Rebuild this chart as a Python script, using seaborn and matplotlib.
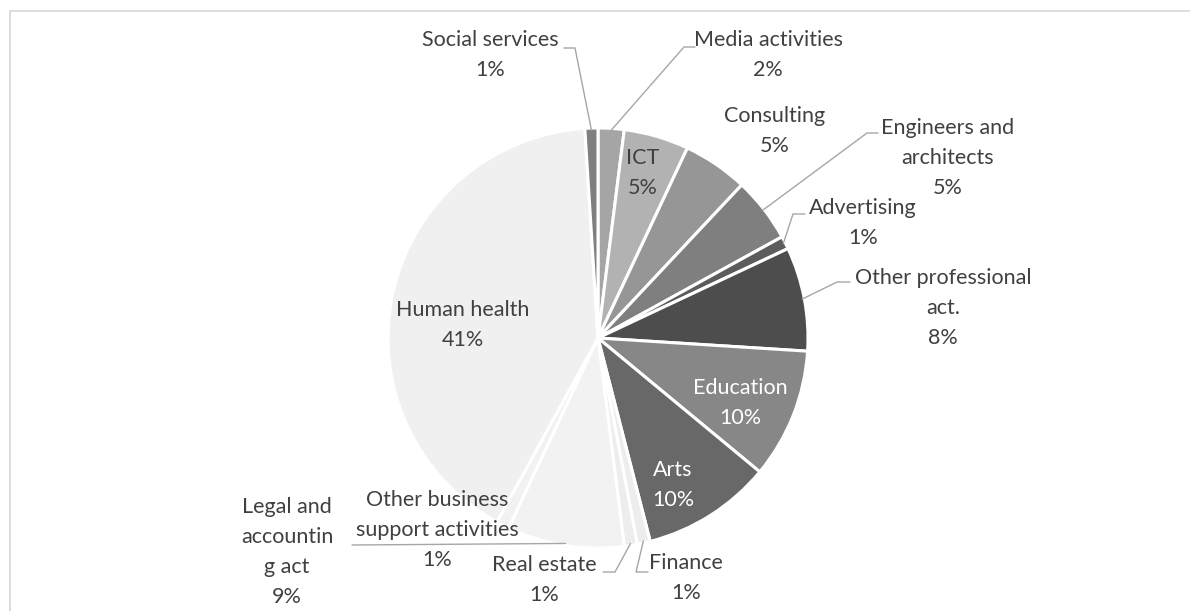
import numpy as np
import matplotlib
matplotlib.use("Agg")
import matplotlib.pyplot as plt
import seaborn as sns

# Shares of employment by sector (%), clockwise from 12 o'clock
sectors = [
    "Media activities", "ICT", "Consulting", "Engineers and architects",
    "Advertising", "Other professional act.", "Education", "Arts",
    "Finance", "Real estate", "Legal and accounting act",
    "Other business support activities", "Human health", "Social services",
]
shares = [2, 5, 5, 5, 1, 8, 10, 10, 1, 1, 9, 1, 41, 1]

# Label text as wrapped on the chart
label_names = [
    "Media activities", "ICT", "Consulting", "Engineers and\narchitects",
    "Advertising", "Other professional\nact.", "Education", "Arts",
    "Finance", "Real estate", "Legal and\naccountin\ng act",
    "Other business\nsupport activities", "Human health", "Social services",
]

sns.set_theme(style="white")
plt.rcParams["font.family"] = ["Lato", "DejaVu Sans"]

W, H = 1190, 611
fig = plt.figure(figsize=(W / 100, H / 100), dpi=100)
ax = fig.add_axes([0, 0, 1, 1])


def py(y):
    """Convert a top-down pixel row to axis y."""
    return H - y


colors = ["#a5a5a5", "#b2b2b2", "#969696", "#7f7f7f", "#5c5c5c", "#4d4d4d",
          "#878787", "#686868", "#ededed", "#ededed", "#f2f2f2", "#f2f2f2",
          "#f0f0f0", "#7f7f7f"]

cx, cy, R = 598, 338, 210
ax.pie(shares, colors=colors, startangle=90, counterclock=False,
       center=(cx, py(cy)), radius=R, frame=True,
       wedgeprops=dict(edgecolor="white", linewidth=2.2))
ax.set_xlim(0, W)
ax.set_ylim(0, H)
ax.set_aspect("equal")
ax.axis("off")

# mid-angle of each wedge, measured clockwise from the top
total = float(sum(shares))
cum = np.cumsum([0] + shares)
mid_deg = [(cum[i] + shares[i] / 2) / total * 360 for i in range(len(shares))]


def edge_point(i, r=R):
    a = np.deg2rad(mid_deg[i])
    return cx + r * np.sin(a), cy - r * np.cos(a)


# label layout: centre of text block (pixels), text colour, leader points
layout = {
    "Media activities": ((768, 55), "#404040", [(695, 47), (684, 47)]),
    "ICT": ((643, 173), "#404040", None),
    "Consulting": ((775, 131), "#404040", None),
    "Engineers and architects": ((948, 158), "#404040", [(878, 133), (867, 133)]),
    "Advertising": ((863, 223), "#404040", [(805, 214), (793, 214)]),
    "Other professional act.": ((943, 308), "#404040", [(850, 282), (837, 282)]),
    "Education": ((740, 403), "white", None),
    "Arts": ((673, 485), "white", None),
    "Finance": ((686, 578), "#404040", [(648, 572), (636, 572)]),
    "Real estate": ((544, 580), "#404040", [(603, 572), (615, 572)]),
    "Legal and accounting act": ((287, 552), "#404040", [(352, 545)]),
    "Other business support activities": ((437, 530), "#404040", None),
    "Human health": ((463, 325), "#404040", None),
    "Social services": ((490, 55), "#404040", [(564, 48), (575, 48)]),
}

leader_color = "#a6a6a6"
for i, (name, val) in enumerate(zip(sectors, shares)):
    (tx, ty), tcol, leader = layout[name]
    ax.text(tx, py(ty), f"{label_names[i]}\n{val}%", ha="center", va="center",
            fontsize=15.5, color=tcol, linespacing=1.62)
    if leader:
        ex, ey = edge_point(i, R - 2)
        pts = leader + [(ex, ey)]
        ax.plot([p[0] for p in pts], [py(p[1]) for p in pts],
                color=leader_color, lw=1.0, solid_joinstyle="miter")

# chart area border
ax.plot([9.5, 9.5, W + 5], [py(H + 5), py(10.5), py(10.5)],
        color="#d9d9d9", lw=1.3, clip_on=False)

fig.savefig("out.png", dpi=100)
